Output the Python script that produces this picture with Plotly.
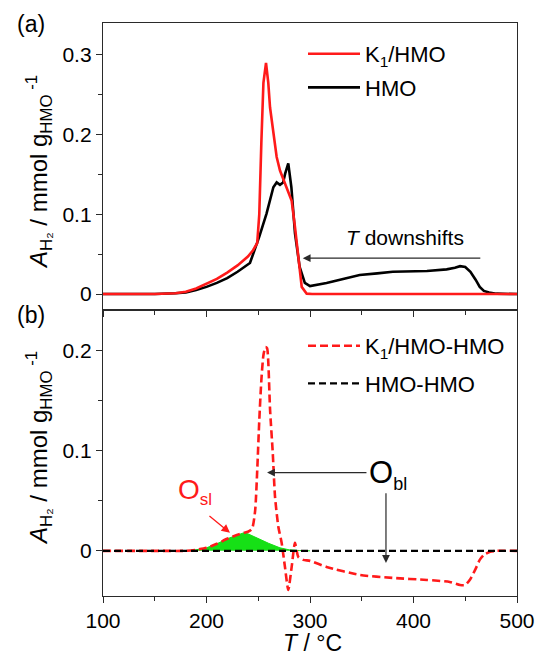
import plotly.graph_objects as go

# ---------------- data ----------------
# Panel (a): K1/HMO
t_k1 = [100, 150, 170, 180, 190, 200, 210, 220, 230, 240, 245, 249, 251, 253, 255, 257.5,
        259.7, 261.4, 264.6, 267.8, 271, 277.5, 282.3, 285.5, 288.7, 292, 296.8, 302, 320, 400, 500]
a_k1 = [0, 0, 0.001, 0.003, 0.007, 0.013, 0.019, 0.027, 0.036, 0.047, 0.055, 0.064, 0.10, 0.19, 0.265, 0.29,
        0.265, 0.234, 0.20, 0.172, 0.155, 0.134, 0.117, 0.084, 0.043, 0.009, 0.0005, 0, 0, 0, 0]

# Panel (a): HMO
t_hmo = [100, 150, 170, 180, 190, 200, 210, 220, 230, 242, 251, 258, 264.6, 267.8, 271, 274, 276, 279,
         282, 285.5, 290, 295, 300, 316, 332, 348, 365, 380, 413, 432, 440, 445, 450, 455, 460, 464,
         468, 473, 480, 500]
a_hmo = [0, 0, 0.001, 0.002, 0.005, 0.009, 0.014, 0.020, 0.028, 0.039, 0.072, 0.101, 0.134, 0.140, 0.137,
         0.140, 0.151, 0.164, 0.134, 0.076, 0.034, 0.014, 0.010, 0.014, 0.019, 0.024, 0.026, 0.028,
         0.029, 0.031, 0.033, 0.035, 0.034, 0.028, 0.018, 0.009, 0.004, 0.002, 0.0005, 0]

# Panel (b): K1/HMO-HMO difference
t_diff = [100, 150, 180, 190, 200, 210, 220, 230, 236, 240, 244, 247, 249, 251, 253, 255, 257, 258.5,
          259.7, 261.4, 264, 266.2, 269.4, 272.6, 275.8, 279, 282.3, 285.5, 288.7, 293.5, 300, 316,
          348, 380, 413, 435, 445, 450, 455, 460, 464, 468, 474, 480, 500]
a_diff = [0, 0, 0, 0.001, 0.003, 0.007, 0.012, 0.016, 0.018, 0.019, 0.022, 0.04, 0.08, 0.13, 0.17, 0.195,
          0.203, 0.202, 0.188, 0.141, 0.098, 0.054, 0.024, 0.008, -0.016, -0.039, -0.016, 0.008, -0.006,
          -0.009, -0.010, -0.016, -0.024, -0.027, -0.029, -0.031, -0.034, -0.034, -0.028, -0.018,
          -0.009, -0.004, -0.001, 0, 0]

# Panel (b): HMO-HMO baseline
t_base = [100, 200, 300, 400, 500]
a_base = [0, 0, 0, 0, 0]

# Panel (b): green O_sl area
t_osl = [180, 184, 190, 200, 210, 220, 230, 236, 240, 250, 260, 271, 280, 290, 300]
a_osl = [0, 0.0003, 0.001, 0.003, 0.007, 0.012, 0.016, 0.018, 0.017, 0.012, 0.0075, 0.003, 0.001, 0.0003, 0]

x_ticks = [100, 200, 300, 400, 500]
ya_ticks = [0, 0.1, 0.2, 0.3]
ya_text = ["0", "0.1", "0.2", "0.3"]
yb_ticks = [0, 0.1, 0.2]
yb_text = ["0", "0.1", "0.2"]

FONT = "Arial, Liberation Sans, sans-serif"
RED = "#ff1a1a"
AX = "#2a2a2a"

fig = go.Figure()

# panel (a)
fig.add_trace(go.Scatter(x=t_hmo, y=a_hmo, mode="lines", name="HMO",
                         line=dict(color="black", width=2.6), xaxis="x", yaxis="y",
                         legend="legend", legendgroup="a2", legendrank=2))
fig.add_trace(go.Scatter(x=t_k1, y=a_k1, mode="lines", name="K<sub>1</sub>/HMO",
                         line=dict(color=RED, width=2.6), xaxis="x", yaxis="y",
                         legend="legend", legendgroup="a1", legendrank=1))

# panel (b)
fig.add_trace(go.Scatter(x=t_osl, y=a_osl, mode="lines", fill="tozeroy", fillcolor="#16e016",
                         line=dict(color="#16e016", width=1), showlegend=False,
                         xaxis="x2", yaxis="y2"))
fig.add_trace(go.Scatter(x=t_diff, y=a_diff, mode="lines", name="K<sub>1</sub>/HMO-HMO",
                         line=dict(color=RED, width=2.6, dash="8px,4px", shape="spline", smoothing=0.6),
                         xaxis="x2", yaxis="y2", legend="legend2", legendgroup="b1", legendrank=1))
fig.add_trace(go.Scatter(x=t_base, y=a_base, mode="lines", name="HMO-HMO",
                         line=dict(color="black", width=2.4, dash="7px,4px"),
                         xaxis="x2", yaxis="y2", legend="legend2", legendgroup="b2", legendrank=2))

axis_common = dict(showline=True, linecolor=AX, linewidth=1.4, mirror=True,
                   ticks="outside", tickcolor=AX, tickwidth=1.3, ticklen=6,
                   showgrid=False, zeroline=False,
                   tickfont=dict(family=FONT, size=21, color="black"))

split = 0.4991
fig.update_layout(
    width=536, height=657,
    margin=dict(l=103, r=19, t=23, b=61, autoexpand=False),
    paper_bgcolor="white", plot_bgcolor="white",
    font=dict(family=FONT, color="black"),
    xaxis=dict(domain=[0, 1], anchor="y", range=[100, 500], tickvals=x_ticks,
               showticklabels=False,
               minor=dict(dtick=50, ticks="outside", ticklen=4, tickcolor=AX, tickwidth=1.2),
               **axis_common),
    yaxis=dict(domain=[split, 1], anchor="x", range=[-0.02, 0.34], tickvals=ya_ticks,
               ticktext=ya_text,
               minor=dict(dtick=0.05, ticks="outside", ticklen=4, tickcolor=AX, tickwidth=1.2),
               **axis_common),
    xaxis2=dict(domain=[0, 1], anchor="y2", range=[100, 500], tickvals=x_ticks,
                minor=dict(dtick=50, ticks="outside", ticklen=4, tickcolor=AX, tickwidth=1.2),
                **axis_common),
    yaxis2=dict(domain=[0, split], anchor="x2", range=[-0.045, 0.24], tickvals=yb_ticks,
                ticktext=yb_text,
                minor=dict(dtick=0.05, ticks="outside", ticklen=4, tickcolor=AX, tickwidth=1.2),
                **axis_common),
    legend=dict(x=(303 - 103) / 414, xanchor="left", y=(596 - 33) / 573, yanchor="top",
                bgcolor="rgba(0,0,0,0)", borderwidth=0, itemwidth=52, tracegroupgap=2,
                font=dict(family=FONT, size=22, color="black")),
    legend2=dict(x=(303 - 103) / 414, xanchor="left", y=(596 - 325) / 573, yanchor="top",
                 bgcolor="rgba(0,0,0,0)", borderwidth=0, itemwidth=52, tracegroupgap=6,
                 font=dict(family=FONT, size=22, color="black")),
)

ytitle = "<i>A</i><sub>H₂</sub> / mmol g<sub>HMO</sub><sup> -1</sup>"


def pa(text, px, py, size, angle=0, color="black", yanchor="middle"):
    return dict(text=text, x=(px - 103) / 414, y=(596 - py) / 573, xref="paper", yref="paper",
                xanchor="center", yanchor=yanchor, textangle=angle, showarrow=False,
                font=dict(size=size, family=FONT, color=color))


ann = [
    pa("(a)", 31, 24, 23),
    pa("(b)", 31, 315, 23),
    pa(ytitle, 39, 172, 24, -90),
    pa(ytitle, 39, 448, 24, -90),
    pa("<i>T</i> / °C", 312, 658, 23, yanchor="bottom"),
    # panel (a) arrow + text
    dict(text="<i>T</i> downshifts", x=391.8, y=0.071, xref="x", yref="y", showarrow=False,
         xanchor="center", yanchor="middle", font=dict(size=21, family=FONT)),
    dict(text="", x=293, y=0.045, ax=466, ay=0.045, xref="x", yref="y", axref="x", ayref="y",
         showarrow=True, arrowhead=2, arrowsize=1.3, arrowwidth=1.2, arrowcolor=AX),
    # panel (b) O_bl
    dict(text="O<sub><span style='font-size:18px'>bl</span></sub>", x=355, y=0.076,
         xref="x2", yref="y2", xanchor="left", yanchor="middle", showarrow=False,
         font=dict(size=31, family=FONT)),
    dict(text="", x=258.5, y=0.078, ax=356, ay=0.078, xref="x2", yref="y2", axref="x2",
         ayref="y2", showarrow=True, arrowhead=2, arrowsize=1.3, arrowwidth=1.2, arrowcolor=AX),
    dict(text="", x=373.4, y=-0.012, ax=373.4, ay=0.059, xref="x2", yref="y2", axref="x2",
         ayref="y2", showarrow=True, arrowhead=2, arrowsize=1.3, arrowwidth=1.2, arrowcolor=AX),
    # panel (b) O_sl
    dict(text="O<sub><span style='font-size:17px'>sl</span></sub>", x=171, y=0.059,
         xref="x2", yref="y2", xanchor="left", yanchor="middle", showarrow=False,
         font=dict(size=28, family=FONT, color=RED)),
    dict(text="", x=222.7, y=0.018, ax=201.4, ay=0.036, xref="x2", yref="y2", axref="x2",
         ayref="y2", showarrow=True, arrowhead=2, arrowsize=1.3, arrowwidth=1.3, arrowcolor=RED),
]
fig.update_layout(annotations=ann)

fig.write_html("out.html")
